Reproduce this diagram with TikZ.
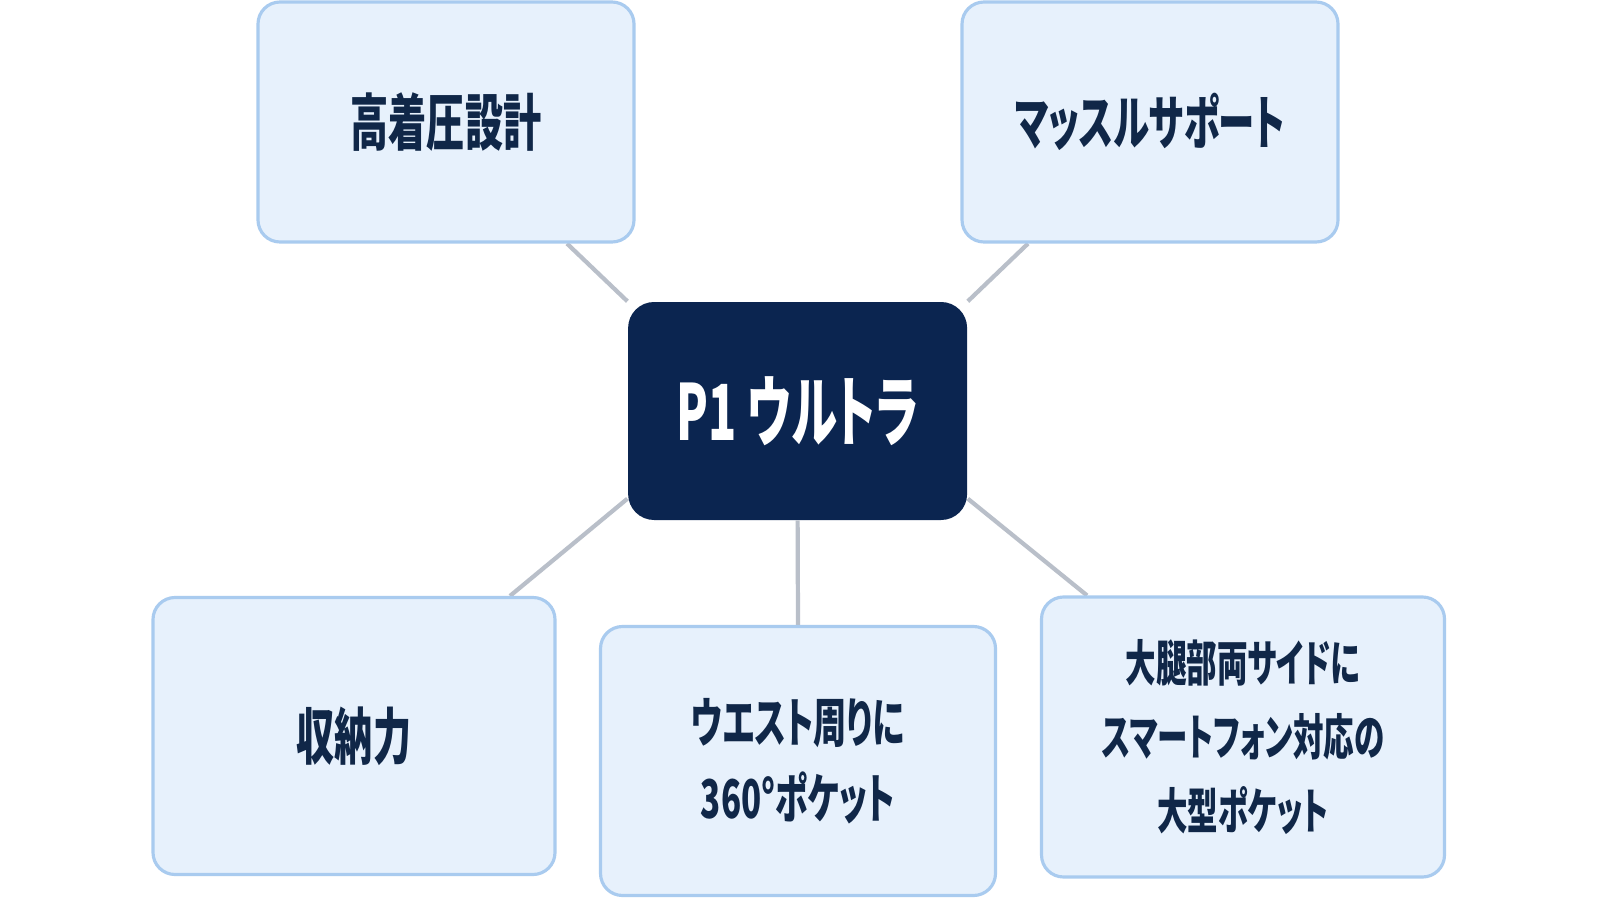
\documentclass[tikz,border=0pt]{standalone}
\usepackage{fontspec}
\usepackage{tikz}
\usetikzlibrary{backgrounds}
\newfontfamily\cjk[FakeStretch=0.62,RawFeature=+palt]{Noto Sans CJK JP}
\newfontfamily\cjkhub[FakeStretch=0.60,RawFeature=+palt]{Noto Sans CJK JP}
\definecolor{navy}{HTML}{0B2550}
\definecolor{inknavy}{HTML}{102748}
\definecolor{boxfill}{HTML}{E7F1FC}
\definecolor{boxline}{HTML}{A9CBEF}
\definecolor{linkgray}{HTML}{B9BFC9}

\begin{document}
\begin{tikzpicture}[
    feature/.style={draw=boxline, line width=0.9pt, fill=boxfill, rounded corners=0.22cm,
      align=center, text=inknavy, inner sep=0pt,
      font=\cjk\bfseries\fontsize{17.5}{21}\selectfont},
    hub/.style={fill=navy, rounded corners=0.26cm, align=center, text=white, inner sep=0pt,
      font=\cjkhub\bfseries\fontsize{22}{26}\selectfont},
    link/.style={draw=linkgray, line width=1.2pt}]
    \useasboundingbox (0,0) rectangle (16,9);
    %nodes
    \node[hub, minimum width=3.39cm, minimum height=2.18cm] (C) at (7.976,4.89) {P1 ウルトラ};
    \node[feature, minimum width=3.76cm, minimum height=2.40cm] (TL) at (4.46,7.78) {高着圧設計};
    \node[feature, minimum width=3.76cm, minimum height=2.40cm, font=\cjk\bfseries\fontsize{16.7}{20}\selectfont] (TR) at (11.50,7.78) {マッスルサポート};
    \node[feature, minimum width=4.02cm, minimum height=2.77cm] (BL) at (3.54,1.64) {収納力};
    \node[feature, minimum width=3.95cm, minimum height=2.69cm, font=\cjk\bfseries\fontsize{15.2}{21.5}\selectfont] (BM) at (7.98,1.39) {ウエスト周りに\\360°ポケット};
    \node[feature, minimum width=4.03cm, minimum height=2.80cm, font=\cjk\bfseries\fontsize{14}{21}\selectfont] (BR) at (12.43,1.63) {大腿部両サイドに\\スマートフォン対応の\\大型ポケット};
    %edges
    \begin{scope}[on background layer]
    \fill[white] (0,0) rectangle (16,9);
    \path[link]
     (C.north west) edge ([xshift=1.21cm]TL.south)
     (C.north east) edge ([xshift=-1.22cm]TR.south)
     ([yshift=0.22cm]C.south west) edge ([xshift=1.56cm]BL.north)
     (C.south) edge (BM.north)
     ([yshift=0.22cm]C.south east) edge ([xshift=-1.56cm]BR.north);
    \end{scope}
\end{tikzpicture}
\end{document}
